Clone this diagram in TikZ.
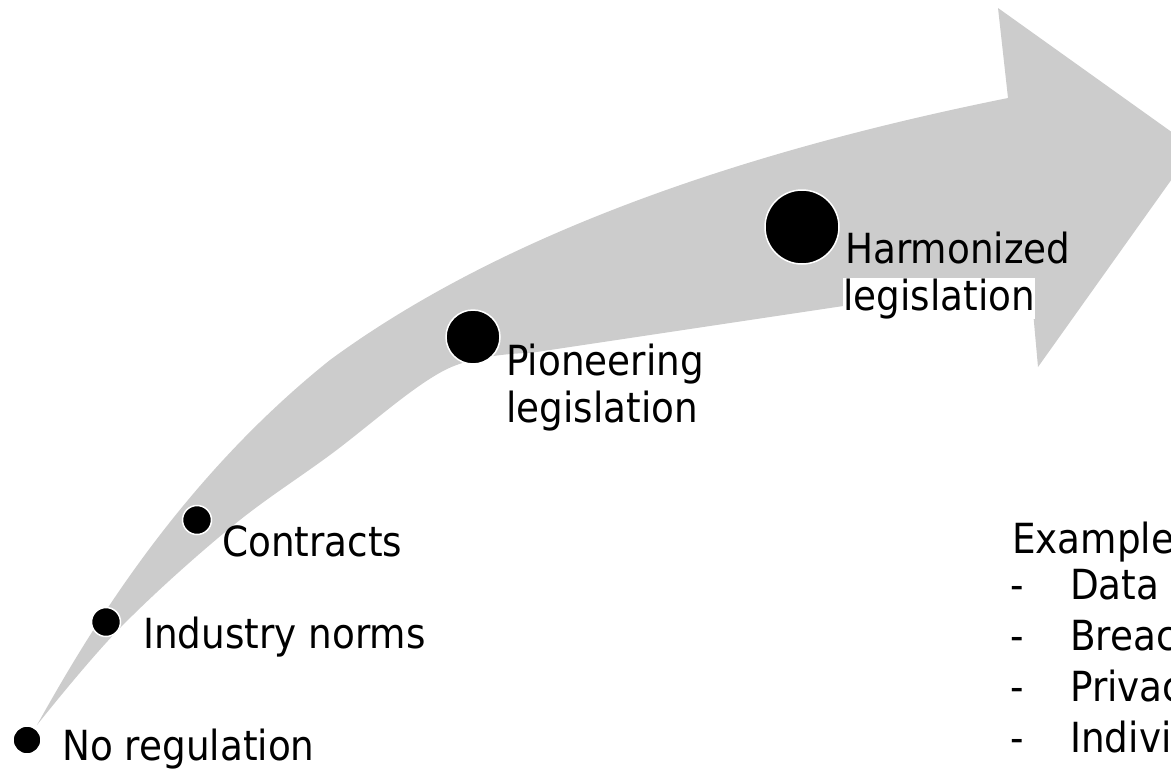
\documentclass[tikz,border=0pt]{standalone}
\usepackage{fontspec}
\setmainfont{DejaVu Sans}[FakeStretch=0.9]
\usetikzlibrary{positioning}
\definecolor{arrowgray}{RGB}{204,204,204}
\tikzset{
  dot/.style={circle,fill=black,draw=white,line width=1.5pt,inner sep=0pt,minimum size=#1},
  lbl/.style={anchor=base west,inner sep=0pt,font=\fontsize{41.5}{48}\selectfont},
}
\begin{document}
\begin{tikzpicture}[x=1pt,y=-1pt]
            \def\xmax{1171} \def\ymax{772}
            \useasboundingbox (0,0) rectangle (\xmax,\ymax);
            % the big curved arrow
            \fill[arrowgray] (37,725) .. controls (90,630) and (180,480) .. (330,360)
                .. controls (480,250) and (700,160) .. (1008,98) -- (998,8) -- (1194,148)
                -- (1038,367) -- (1030,278) -- (530,353)
                -- plot[smooth,tension=0.6] coordinates {(530,353) (445,370) (330,455) (230,528) (120,628) (37,725)} -- cycle;
            % stages
            \node[dot=28pt] (none) at (27,740) {};
            \node[dot=29pt] (norms) at (106,622) {};
            \node[dot=29pt] (contr) at (197,520) {};
            \node[dot=54pt] (pion) at (473,337) {};
            \node[dot=74pt] (harm) at (802,227) {};
            \node[lbl] (nonel) at (62,760) {No regulation};
            \node[lbl] (normsl) at (143,648) {Industry norms};
            \node[lbl] (contrl) at (222,556) {Contracts};
            \node[lbl] (pionl) at (506,375) {Pioneering};
            \node[lbl] (pionm) at (506,422) {legislation};
            \node[lbl] (harml) at (845,263) {Harmonized};
            \node[lbl,fill=white,text height=32pt] (harmm) at (843,310) {legislation};
            % examples
            \node[lbl] (ex) at (1012,553) {Examples};
            \foreach \t [count=\i] in {Data s,Breac,Privac,Indivi} {
                \node[lbl] (dash\i) at (1010,{549+50.8*\i}) {-};
                \node[lbl] (item\i) at (1070,{549+50.8*\i}) {\t};
            }
\end{tikzpicture}
\end{document}
